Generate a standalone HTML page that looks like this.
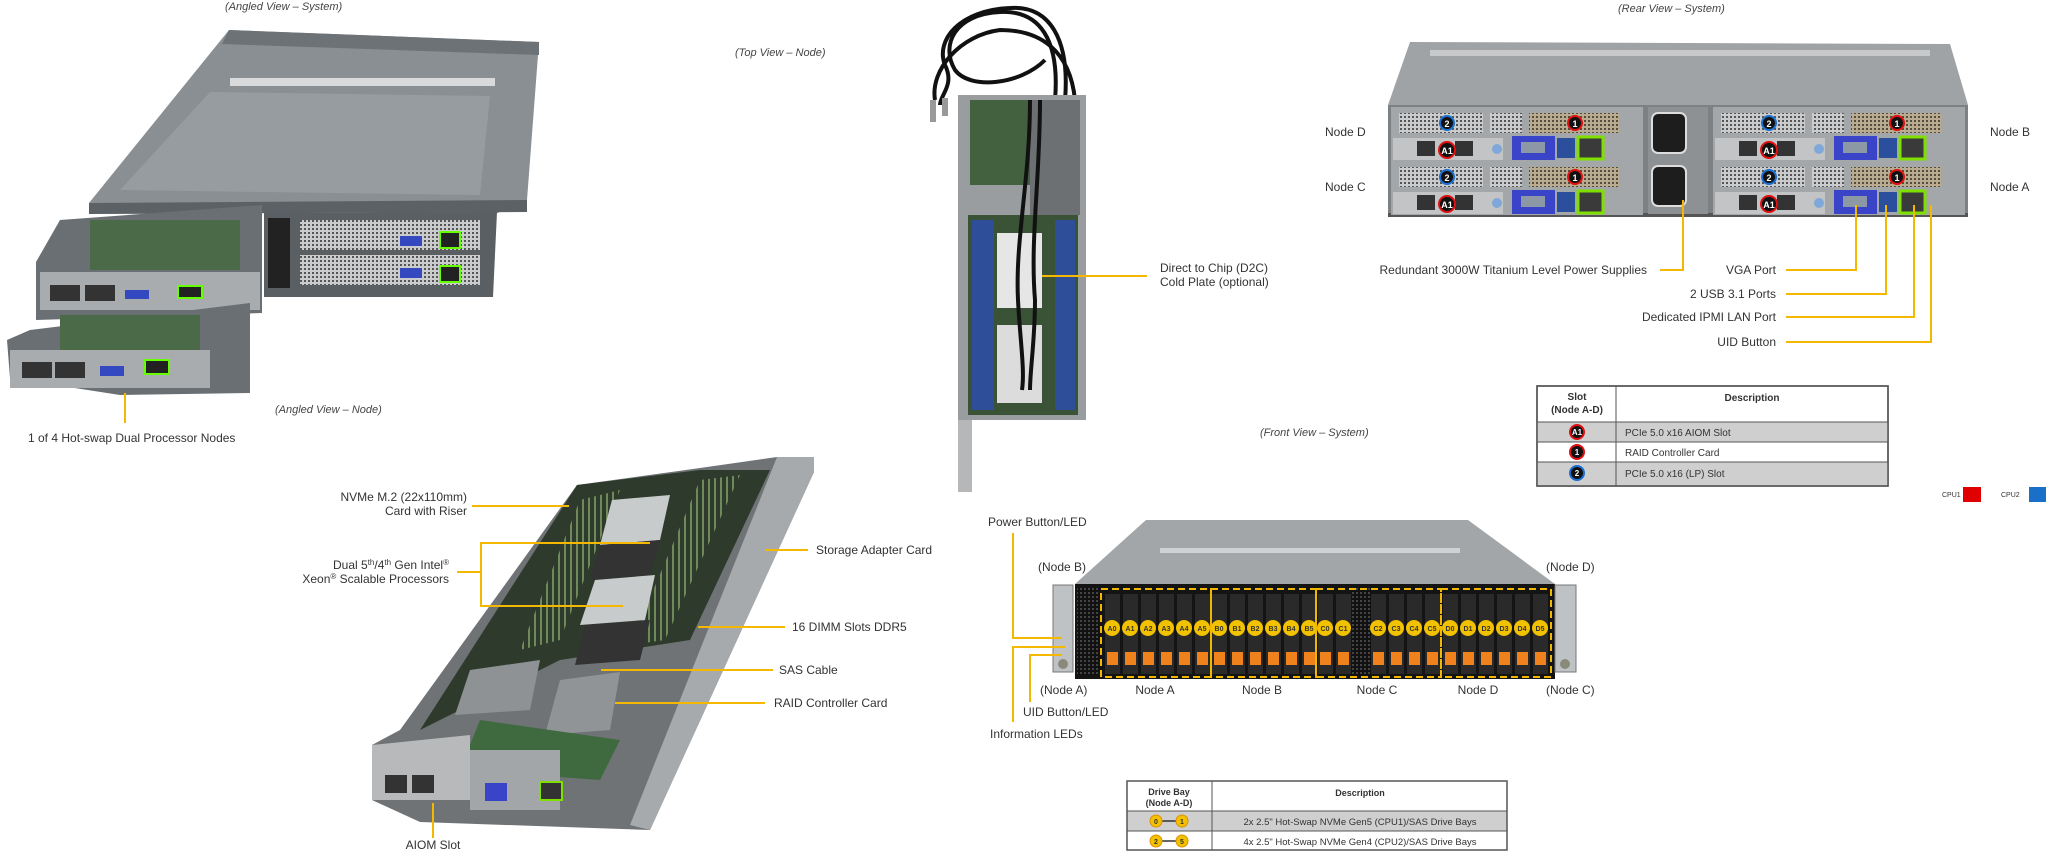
<!DOCTYPE html>
<html><head><meta charset="utf-8"><style>
html,body{margin:0;padding:0;background:#fff;}
svg{display:block;}
text{font-family:"Liberation Sans",Arial,sans-serif;fill:#333;}
.it{font-style:italic;fill:#444;}
.y{stroke:#f5b800;stroke-width:2;fill:none;}
</style></head><body>
<svg width="2048" height="853" viewBox="0 0 2048 853" xmlns="http://www.w3.org/2000/svg">
<defs>
<pattern id="grill" width="4" height="4" patternUnits="userSpaceOnUse"><rect width="4" height="4" fill="#c9cbcc"/><rect width="2" height="2" fill="#555"/></pattern>
<pattern id="tan" width="4" height="4" patternUnits="userSpaceOnUse"><rect width="4" height="4" fill="#b9ab90"/><rect width="2" height="2" fill="#544c3d"/></pattern>
<pattern id="dimm" width="6" height="6" patternUnits="userSpaceOnUse"><rect width="6" height="6" fill="#2e3a2c"/><rect width="2" height="6" fill="#6e8a5a"/></pattern>
<pattern id="vent" width="4" height="4" patternUnits="userSpaceOnUse"><rect width="4" height="4" fill="#111"/><rect width="2" height="2" fill="#444"/></pattern>
</defs>

<!-- ===== Angled View – System ===== -->
<text x="225" y="10" font-size="11" class="it">(Angled View – System)</text>
<polygon points="229,30 539,42 527,200 493,215 89,203" fill="#8a8f93"/>
<polygon points="229,30 539,42 539,55 222,44" fill="#6d7276"/>
<rect x="230" y="78" width="265" height="8" fill="#d8dadc"/>
<polygon points="210,92 490,96 480,195 120,190" fill="#979ca0"/>
<polygon points="89,203 527,200 527,212 89,214" fill="#5c6166"/>
<polygon points="264,213 497,212 493,297 264,297" fill="#5a5f63"/>
<rect x="268" y="218" width="22" height="70" fill="#222"/>
<rect x="300" y="220" width="180" height="30" fill="url(#grill)"/>
<rect x="300" y="255" width="180" height="30" fill="url(#grill)"/>
<rect x="440" y="232" width="20" height="16" fill="#222" stroke="#6f0" stroke-width="2"/>
<rect x="440" y="266" width="20" height="16" fill="#222" stroke="#6f0" stroke-width="2"/>
<rect x="400" y="236" width="22" height="10" fill="#3448c0"/>
<rect x="400" y="268" width="22" height="10" fill="#3448c0"/>
<polygon points="60,220 262,205 262,313 36,320 36,262" fill="#6a6f73"/>
<rect x="90" y="220" width="150" height="50" fill="#4a6a48"/>
<rect x="40" y="272" width="220" height="38" fill="#a9acae"/>
<rect x="50" y="285" width="30" height="16" fill="#333"/>
<rect x="85" y="285" width="30" height="16" fill="#333"/>
<rect x="178" y="286" width="24" height="12" fill="#222" stroke="#6f0" stroke-width="2"/>
<rect x="125" y="290" width="24" height="9" fill="#3448c0"/>
<polygon points="30,330 250,303 250,393 120,395 10,378 7,340" fill="#6a6f73"/>
<rect x="60" y="315" width="140" height="40" fill="#4a6a48"/>
<rect x="10" y="350" width="200" height="38" fill="#a9acae"/>
<rect x="22" y="362" width="30" height="16" fill="#333"/>
<rect x="55" y="362" width="30" height="16" fill="#333"/>
<rect x="145" y="360" width="24" height="14" fill="#222" stroke="#6f0" stroke-width="2"/>
<rect x="100" y="366" width="24" height="10" fill="#3448c0"/>
<line class="y" x1="125" y1="393" x2="125" y2="423"/>
<text x="28" y="442" font-size="12">1 of 4 Hot-swap  Dual Processor Nodes</text>
<text x="275" y="413" font-size="11" class="it">(Angled View – Node)</text>

<!-- ===== Top View – Node ===== -->
<text x="735" y="56" font-size="11" class="it">(Top View – Node)</text>
<path d="M1055,100 C1060,40 1040,10 1000,12 C955,14 940,45 955,70 C970,90 1020,85 1045,60" stroke="#111" stroke-width="4" fill="none"/>
<path d="M1065,100 C1070,40 1050,5 1010,8 C960,10 935,40 945,65 C955,85 940,95 940,105" stroke="#111" stroke-width="4" fill="none"/>
<path d="M1075,100 C1070,50 1040,30 1000,30 C960,35 930,70 935,100" stroke="#111" stroke-width="4" fill="none"/>
<rect x="930" y="100" width="6" height="22" fill="#999"/><rect x="942" y="98" width="6" height="18" fill="#999"/>
<rect x="958" y="95" width="128" height="325" fill="#9a9d9f"/>
<rect x="970" y="100" width="60" height="85" fill="#43613f"/>
<rect x="1030" y="100" width="50" height="115" fill="#6d7072"/>
<rect x="968" y="215" width="110" height="200" fill="#3a5236"/>
<rect x="972" y="220" width="22" height="190" fill="#2f4e9a"/>
<rect x="1055" y="220" width="20" height="190" fill="#2f4e9a"/>
<rect x="997" y="233" width="45" height="75" fill="#e6e6e6"/>
<rect x="997" y="325" width="45" height="78" fill="#dcdcdc"/>
<path d="M1030,100 C1030,180 1015,240 1018,300 C1020,340 1025,370 1022,390" stroke="#111" stroke-width="4" fill="none"/>
<path d="M1040,100 C1040,180 1030,240 1035,300 C1035,340 1030,370 1030,390" stroke="#111" stroke-width="4" fill="none"/>
<rect x="958" y="420" width="14" height="72" fill="#b5b7b8"/>
<line class="y" x1="1042" y1="276" x2="1147" y2="276"/>
<text x="1160" y="272" font-size="12">Direct to Chip (D2C)</text>
<text x="1160" y="286" font-size="12">Cold Plate (optional)</text>

<!-- ===== Rear View – System ===== -->
<text x="1618" y="12" font-size="11" class="it">(Rear View – System)</text>
<polygon points="1410,42 1950,44 1968,105 1388,105" fill="#9fa3a6"/>
<rect x="1430" y="50" width="500" height="6" fill="#c7c9cb"/>
<rect x="1388" y="105" width="580" height="110" fill="#7d8184"/>
<rect x="1388" y="213" width="580" height="4" fill="#555"/>
<!-- nodes -->
<g id="rn">
<rect x="1391" y="107" width="252" height="54" fill="#a4a7a9"/>
<rect x="1399" y="113" width="84" height="20" fill="url(#grill)"/>
<rect x="1490" y="113" width="32" height="20" fill="url(#grill)"/>
<rect x="1529" y="113" width="90" height="20" fill="url(#tan)"/>
<rect x="1393" y="138" width="110" height="22" fill="#c2c4c5"/>
<rect x="1417" y="141" width="18" height="15" fill="#333"/><rect x="1455" y="141" width="18" height="15" fill="#333"/>
<rect x="1512" y="136" width="43" height="24" fill="#3a44c8"/>
<rect x="1521" y="142" width="24" height="11" fill="#8d98a6"/>
<rect x="1557" y="138" width="18" height="20" fill="#2b4f9c"/>
<rect x="1578" y="137" width="25" height="22" fill="#3a3a3a" stroke="#7fe000" stroke-width="3"/>
<circle cx="1497" cy="149" r="5" fill="#7fa7d9"/>
<circle cx="1447" cy="123" r="7" fill="#111" stroke="#1a6fd0" stroke-width="2"/><text x="1447" y="127" font-size="9" fill="#fff" text-anchor="middle" style="fill:#fff;font-weight:bold">2</text>
<circle cx="1575" cy="123" r="7" fill="#111" stroke="#e01010" stroke-width="2"/><text x="1575" y="127" font-size="9" text-anchor="middle" style="fill:#fff;font-weight:bold">1</text>
<circle cx="1447" cy="150" r="8" fill="#111" stroke="#e01010" stroke-width="2"/><text x="1447" y="154" font-size="9" text-anchor="middle" style="fill:#fff;font-weight:bold">A1</text>
</g>
<use href="#rn" x="0" y="54"/>
<use href="#rn" x="322" y="0"/>
<use href="#rn" x="322" y="54"/>
<rect x="1648" y="107" width="60" height="107" fill="#8e9193"/>
<rect x="1652" y="113" width="34" height="40" rx="6" fill="#1d1d1d" stroke="#ddd" stroke-width="2"/>
<rect x="1652" y="166" width="34" height="40" rx="6" fill="#1d1d1d" stroke="#ddd" stroke-width="2"/>
<text x="1325" y="136" font-size="12">Node D</text>
<text x="1325" y="191" font-size="12">Node C</text>
<text x="1990" y="136" font-size="12">Node B</text>
<text x="1990" y="191" font-size="12">Node A</text>
<polyline class="y" points="1660,270 1683,270 1683,200"/>
<polyline class="y" points="1786,270 1856,270 1856,205"/>
<polyline class="y" points="1786,294 1886,294 1886,205"/>
<polyline class="y" points="1786,317 1914,317 1914,205"/>
<polyline class="y" points="1786,342 1931,342 1931,205"/>
<text x="1647" y="274" font-size="12" text-anchor="end">Redundant  3000W Titanium  Level Power Supplies</text>
<text x="1776" y="274" font-size="12" text-anchor="end">VGA Port</text>
<text x="1776" y="298" font-size="12" text-anchor="end">2 USB 3.1 Ports</text>
<text x="1776" y="321" font-size="12" text-anchor="end">Dedicated IPMI  LAN Port</text>
<text x="1776" y="346" font-size="12" text-anchor="end">UID  Button</text>

<!-- Slot table -->
<rect x="1537" y="386" width="351" height="100" fill="#fff" stroke="#555" stroke-width="1.5"/>
<rect x="1537" y="422" width="351" height="20" fill="#cfcfcf"/>
<rect x="1537" y="462" width="351" height="23" fill="#cfcfcf"/>
<line x1="1537" y1="422" x2="1888" y2="422" stroke="#555"/>
<line x1="1537" y1="442" x2="1888" y2="442" stroke="#555"/>
<line x1="1537" y1="462" x2="1888" y2="462" stroke="#555"/>
<line x1="1616" y1="386" x2="1616" y2="486" stroke="#555"/>
<rect x="1537" y="386" width="351" height="100" fill="none" stroke="#555" stroke-width="1.5"/>
<text x="1577" y="400" font-size="10" font-weight="bold" text-anchor="middle">Slot</text>
<text x="1577" y="413" font-size="10" font-weight="bold" text-anchor="middle">(Node A-D)</text>
<text x="1752" y="401" font-size="10" font-weight="bold" text-anchor="middle">Description</text>
<circle cx="1577" cy="432" r="7" fill="#111" stroke="#e01010" stroke-width="2"/><text x="1577" y="435" font-size="8" text-anchor="middle" style="fill:#fff;font-weight:bold">A1</text>
<circle cx="1577" cy="452" r="7" fill="#111" stroke="#e01010" stroke-width="2"/><text x="1577" y="455" font-size="8" text-anchor="middle" style="fill:#fff;font-weight:bold">1</text>
<circle cx="1577" cy="473" r="7" fill="#111" stroke="#1a6fd0" stroke-width="2"/><text x="1577" y="476" font-size="8" text-anchor="middle" style="fill:#fff;font-weight:bold">2</text>
<text x="1625" y="436" font-size="10">PCIe 5.0 x16 AIOM Slot</text>
<text x="1625" y="456" font-size="10">RAID Controller  Card</text>
<text x="1625" y="477" font-size="10">PCIe 5.0 x16 (LP) Slot</text>
<text x="1942" y="497" font-size="7">CPU1</text>
<rect x="1963" y="487" width="18" height="15" fill="#e00000"/>
<text x="2001" y="497" font-size="7">CPU2</text>
<rect x="2029" y="487" width="17" height="15" fill="#1a70c8"/>

<!-- ===== Angled View – Node ===== -->
<polygon points="577,485 700,468 777,457 814,457 814,472 650,830 420,822 372,800 372,745 400,730" fill="#6f7376"/>
<polygon points="577,485 700,470 770,470 690,640 560,660 420,730" fill="#2e3a2c"/>
<polygon points="580,500 620,490 560,640 520,650" fill="url(#dimm)"/>
<polygon points="700,480 740,475 665,640 630,645" fill="url(#dimm)"/>
<polygon points="612,500 670,495 660,540 600,545" fill="#c8cbcc"/>
<polygon points="595,580 655,575 645,620 580,625" fill="#c8cbcc"/>
<polygon points="600,545 660,540 650,575 590,580" fill="#333"/>
<polygon points="585,625 650,620 640,660 575,665" fill="#333"/>
<polygon points="470,670 540,660 530,710 455,715" fill="#8e9294"/>
<polygon points="560,680 620,672 610,730 545,735" fill="#909496"/>
<polygon points="480,720 620,740 600,780 460,770" fill="#3f6a40"/>
<polygon points="777,457 814,457 814,472 650,830 630,825" fill="#a7aaac"/>
<polygon points="372,745 470,735 470,800 372,800" fill="#b7b9ba"/>
<rect x="385" y="775" width="22" height="18" fill="#333"/><rect x="412" y="775" width="22" height="18" fill="#333"/>
<polygon points="470,750 560,750 560,810 470,810" fill="#a3a6a8"/>
<rect x="485" y="783" width="22" height="18" fill="#3a44c8"/>
<rect x="540" y="782" width="22" height="18" fill="#333" stroke="#7fe000" stroke-width="2"/>
<line class="y" x1="472" y1="506" x2="569" y2="506"/>
<polyline class="y" points="457,572 481,572"/>
<polyline class="y" points="650,543 481,543 481,606 623,606"/>
<line class="y" x1="765" y1="550" x2="808" y2="550"/>
<line class="y" x1="698" y1="627" x2="785" y2="627"/>
<line class="y" x1="601" y1="670" x2="773" y2="670"/>
<line class="y" x1="615" y1="703" x2="765" y2="703"/>
<line class="y" x1="433" y1="803" x2="433" y2="838"/>
<text x="467" y="501" font-size="12" text-anchor="end">NVMe M.2 (22x110mm)</text>
<text x="467" y="515" font-size="12" text-anchor="end">Card with Riser</text>
<text x="449" y="569" font-size="12" text-anchor="end">Dual 5<tspan font-size="8" dy="-4">th</tspan><tspan dy="4">/4</tspan><tspan font-size="8" dy="-4">th</tspan><tspan dy="4"> Gen Intel</tspan><tspan font-size="8" dy="-4">®</tspan></text>
<text x="449" y="583" font-size="12" text-anchor="end">Xeon<tspan font-size="8" dy="-4">®</tspan><tspan dy="4"> Scalable Processors</tspan></text>
<text x="816" y="554" font-size="12">Storage Adapter Card</text>
<text x="792" y="631" font-size="12">16 DIMM  Slots DDR5</text>
<text x="779" y="674" font-size="12">SAS Cable</text>
<text x="774" y="707" font-size="12">RAID  Controller  Card</text>
<text x="433" y="849" font-size="12" text-anchor="middle">AIOM Slot</text>

<!-- ===== Front View – System ===== -->
<text x="1260" y="436" font-size="11" class="it">(Front View – System)</text>
<polygon points="1146,520 1468,520 1555,584 1075,584" fill="#a2a6a9"/>
<rect x="1160" y="548" width="300" height="5" fill="#cfd1d2"/>
<rect x="1075" y="584" width="480" height="95" fill="#141414"/>
<rect x="1077" y="588" width="22" height="88" fill="url(#vent)"/>
<rect x="1352" y="588" width="20" height="88" fill="url(#vent)"/>
<rect x="1053" y="585" width="20" height="87" fill="#bfc2c4" stroke="#777"/>
<rect x="1555" y="585" width="21" height="87" fill="#bfc2c4" stroke="#777"/>
<circle cx="1063" cy="664" r="5" fill="#8a8a7a"/><circle cx="1565" cy="664" r="5" fill="#8a8a7a"/>
<g fill="#2a2a2a">
<rect x="1105" y="594" width="15" height="80"/><rect x="1123" y="594" width="15" height="80"/><rect x="1141" y="594" width="15" height="80"/><rect x="1159" y="594" width="15" height="80"/><rect x="1177" y="594" width="15" height="80"/><rect x="1195" y="594" width="15" height="80"/>
<rect x="1212" y="594" width="15" height="80"/><rect x="1230" y="594" width="15" height="80"/><rect x="1248" y="594" width="15" height="80"/><rect x="1266" y="594" width="15" height="80"/><rect x="1284" y="594" width="15" height="80"/><rect x="1302" y="594" width="15" height="80"/>
<rect x="1318" y="594" width="15" height="80"/><rect x="1336" y="594" width="15" height="80"/><rect x="1371" y="594" width="15" height="80"/><rect x="1389" y="594" width="15" height="80"/><rect x="1407" y="594" width="15" height="80"/><rect x="1425" y="594" width="15" height="80"/>
<rect x="1443" y="594" width="15" height="80"/><rect x="1461" y="594" width="15" height="80"/><rect x="1479" y="594" width="15" height="80"/><rect x="1497" y="594" width="15" height="80"/><rect x="1515" y="594" width="15" height="80"/><rect x="1533" y="594" width="15" height="80"/>
</g>
<g fill="#f0821e">
<rect x="1107" y="652" width="11" height="13"/><rect x="1125" y="652" width="11" height="13"/><rect x="1143" y="652" width="11" height="13"/><rect x="1161" y="652" width="11" height="13"/><rect x="1179" y="652" width="11" height="13"/><rect x="1197" y="652" width="11" height="13"/>
<rect x="1214" y="652" width="11" height="13"/><rect x="1232" y="652" width="11" height="13"/><rect x="1250" y="652" width="11" height="13"/><rect x="1268" y="652" width="11" height="13"/><rect x="1286" y="652" width="11" height="13"/><rect x="1304" y="652" width="11" height="13"/>
<rect x="1320" y="652" width="11" height="13"/><rect x="1338" y="652" width="11" height="13"/><rect x="1373" y="652" width="11" height="13"/><rect x="1391" y="652" width="11" height="13"/><rect x="1409" y="652" width="11" height="13"/><rect x="1427" y="652" width="11" height="13"/>
<rect x="1445" y="652" width="11" height="13"/><rect x="1463" y="652" width="11" height="13"/><rect x="1481" y="652" width="11" height="13"/><rect x="1499" y="652" width="11" height="13"/><rect x="1517" y="652" width="11" height="13"/><rect x="1535" y="652" width="11" height="13"/>
</g>
<g fill="#f2c200">
<circle cx="1112" cy="628" r="8"/><circle cx="1130" cy="628" r="8"/><circle cx="1148" cy="628" r="8"/><circle cx="1166" cy="628" r="8"/><circle cx="1184" cy="628" r="8"/><circle cx="1202" cy="628" r="8"/>
<circle cx="1219" cy="628" r="8"/><circle cx="1237" cy="628" r="8"/><circle cx="1255" cy="628" r="8"/><circle cx="1273" cy="628" r="8"/><circle cx="1291" cy="628" r="8"/><circle cx="1309" cy="628" r="8"/>
<circle cx="1325" cy="628" r="8"/><circle cx="1343" cy="628" r="8"/><circle cx="1378" cy="628" r="8"/><circle cx="1396" cy="628" r="8"/><circle cx="1414" cy="628" r="8"/><circle cx="1432" cy="628" r="8"/>
<circle cx="1450" cy="628" r="8"/><circle cx="1468" cy="628" r="8"/><circle cx="1486" cy="628" r="8"/><circle cx="1504" cy="628" r="8"/><circle cx="1522" cy="628" r="8"/><circle cx="1540" cy="628" r="8"/>
</g>
<g font-size="7" text-anchor="middle" font-weight="bold">
<text x="1112" y="631">A0</text><text x="1130" y="631">A1</text><text x="1148" y="631">A2</text><text x="1166" y="631">A3</text><text x="1184" y="631">A4</text><text x="1202" y="631">A5</text>
<text x="1219" y="631">B0</text><text x="1237" y="631">B1</text><text x="1255" y="631">B2</text><text x="1273" y="631">B3</text><text x="1291" y="631">B4</text><text x="1309" y="631">B5</text>
<text x="1325" y="631">C0</text><text x="1343" y="631">C1</text><text x="1378" y="631">C2</text><text x="1396" y="631">C3</text><text x="1414" y="631">C4</text><text x="1432" y="631">C5</text>
<text x="1450" y="631">D0</text><text x="1468" y="631">D1</text><text x="1486" y="631">D2</text><text x="1504" y="631">D3</text><text x="1522" y="631">D4</text><text x="1540" y="631">D5</text>
</g>
<g stroke="#f2b800" stroke-width="2" stroke-dasharray="7,4" fill="none">
<rect x="1101" y="589" width="110" height="88"/>
<rect x="1211" y="589" width="105" height="88"/>
<rect x="1316" y="589" width="125" height="88"/>
<rect x="1441" y="589" width="110" height="88"/>
</g>
<polyline class="y" points="1013,533 1013,638 1062,638"/>
<polyline class="y" points="1013,722 1013,647 1065,647"/>
<polyline class="y" points="1030,702 1030,655 1062,655"/>
<text x="988" y="526" font-size="12">Power Button/LED</text>
<text x="1038" y="571" font-size="12">(Node B)</text>
<text x="1546" y="571" font-size="12">(Node D)</text>
<text x="1040" y="694" font-size="12">(Node A)</text>
<text x="1546" y="694" font-size="12">(Node C)</text>
<text x="1155" y="694" font-size="12" text-anchor="middle">Node A</text>
<text x="1262" y="694" font-size="12" text-anchor="middle">Node B</text>
<text x="1377" y="694" font-size="12" text-anchor="middle">Node C</text>
<text x="1478" y="694" font-size="12" text-anchor="middle">Node D</text>
<text x="1023" y="716" font-size="12">UID Button/LED</text>
<text x="990" y="738" font-size="12">Information  LEDs</text>

<!-- Drive table -->
<rect x="1127" y="781" width="380" height="69" fill="#fff"/>
<rect x="1127" y="811" width="380" height="20" fill="#cfcfcf"/>
<line x1="1127" y1="811" x2="1507" y2="811" stroke="#555"/>
<line x1="1127" y1="831" x2="1507" y2="831" stroke="#555"/>
<line x1="1212" y1="781" x2="1212" y2="850" stroke="#555"/>
<rect x="1127" y="781" width="380" height="69" fill="none" stroke="#555" stroke-width="1.5"/>
<text x="1169" y="795" font-size="9" font-weight="bold" text-anchor="middle">Drive Bay</text>
<text x="1169" y="806" font-size="9" font-weight="bold" text-anchor="middle">(Node A-D)</text>
<text x="1360" y="796" font-size="9" font-weight="bold" text-anchor="middle">Description</text>
<line x1="1160" y1="821" x2="1177" y2="821" stroke="#333" stroke-width="1.5"/>
<line x1="1160" y1="841" x2="1177" y2="841" stroke="#333" stroke-width="1.5"/>
<circle cx="1156" cy="821" r="6" fill="#f2c200" stroke="#e09000"/><circle cx="1182" cy="821" r="6" fill="#f2c200" stroke="#e09000"/>
<circle cx="1156" cy="841" r="6" fill="#f2c200" stroke="#e09000"/><circle cx="1182" cy="841" r="6" fill="#f2c200" stroke="#e09000"/>
<g font-size="7" text-anchor="middle" font-weight="bold"><text x="1156" y="824">0</text><text x="1182" y="824">1</text><text x="1156" y="844">2</text><text x="1182" y="844">5</text></g>
<text x="1360" y="825" font-size="9.5" text-anchor="middle">2x 2.5" Hot-Swap  NVMe  Gen5 (CPU1)/SAS  Drive  Bays</text>
<text x="1360" y="845" font-size="9.5" text-anchor="middle">4x 2.5" Hot-Swap  NVMe  Gen4 (CPU2)/SAS  Drive  Bays</text>
</svg>
</body></html>
